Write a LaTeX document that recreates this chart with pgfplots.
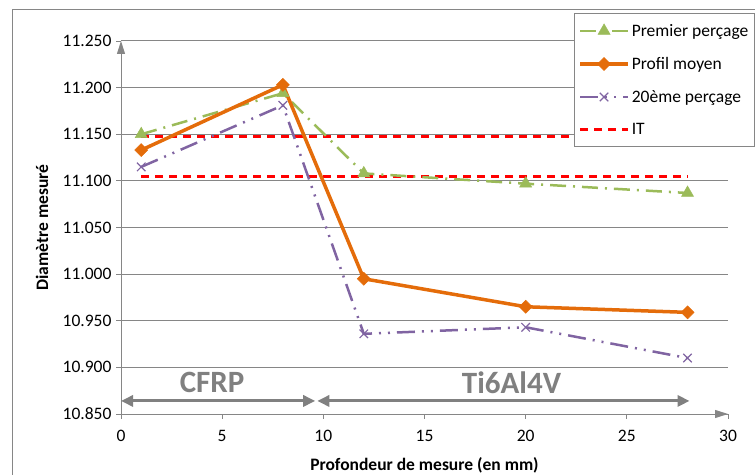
\documentclass[border=0pt]{standalone}
\usepackage{pgfplots}
\pgfplotsset{compat=1.18}
\usepackage{fontspec}
\setmainfont{Carlito}
\usetikzlibrary{arrows.meta}
\definecolor{cgreen}{RGB}{155,187,89}
\definecolor{corange}{RGB}{228,108,10}
\definecolor{cpurple}{RGB}{128,100,162}
\definecolor{cgrid}{RGB}{134,134,134}
\definecolor{carrow}{RGB}{128,128,128}
\begin{document}
\begin{tikzpicture}
\useasboundingbox (0bp,0bp) rectangle (755bp,475bp);
\draw[cgrid, line width=1bp] (12.5bp,-10bp) rectangle (770bp,465bp);
\begin{axis}[
  at={(121bp,61bp)}, anchor=south west,
  scale only axis, width=607bp, height=373bp,
  xmin=0, xmax=30, ymin=10.85, ymax=11.25,
  xtick={0,5,...,30},
  ytick={10.85,10.9,...,11.26},
  axis lines=left,
  axis line style={draw=cgrid, line width=1bp, -{Triangle[length=13bp,width=8bp]}},
  tick style={draw=cgrid, line width=0.8bp},
  major tick length=5bp,
  tick align=outside,
  ymajorgrids,
  grid style={draw=cgrid, line width=1bp},
  /pgf/number format/assume math mode=true,
  yticklabel style={/pgf/number format/fixed, /pgf/number format/fixed zerofill, /pgf/number format/precision=3, /pgf/number format/1000 sep={}, xshift=-1bp},
  ticklabel style={font=\fontsize{17.5bp}{19bp}\selectfont},
  xticklabel style={yshift=-8bp},
  xlabel={Profondeur de mesure (en mm)},
  ylabel={Diamètre mesuré},
  label style={font=\bfseries\fontsize{17.5bp}{19bp}\selectfont},
  xlabel style={at={(axis description cs:0.5,-0.137)}, anchor=center},
  ylabel style={at={(axis description cs:-0.130,0.5)}, anchor=center},
  legend style={at={(rel axis cs:0.746,1.076)}, anchor=north west,
    draw=cgrid, line width=1bp, inner xsep=4bp, inner ysep=9bp,
    font=\fontsize{17.5bp}{19bp}\selectfont, row sep=15.5bp, cells={anchor=west}},
  legend cell align=left,
  legend image code/.code={\draw[mark repeat=2,mark phase=2] plot coordinates {(0bp,0bp) (24bp,0bp) (48bp,0bp)};},
]
\addplot[red, line width=3bp, dash pattern=on 8bp off 6bp, forget plot] coordinates {(1,11.148) (28,11.148)};
\addplot[red, line width=3bp, dash pattern=on 8bp off 6bp, forget plot] coordinates {(1,11.105) (28,11.105)};
\addplot[cgreen, line width=2.5bp, dash pattern=on 16bp off 7bp on 2bp off 7bp, mark=triangle*, mark size=7bp, mark options={solid, fill=cgreen, line width=0.5bp}]
  coordinates {(1,11.150) (8,11.194) (12,11.108) (20,11.097) (28,11.087)};
\addlegendentry{Premier perçage}
\addplot[corange, line width=3.5bp, mark=square*, mark size=4.6bp, mark options={solid, rotate=45, fill=corange, line width=0.5bp}]
  coordinates {(1,11.133) (8,11.203) (12,10.995) (20,10.965) (28,10.959)};
\addlegendentry{Profil moyen}
\addplot[cpurple, line width=2.5bp, dash pattern=on 18bp off 7bp on 2bp off 7bp on 2bp off 7bp, mark=x, mark size=6bp, mark options={solid, line width=1.2bp}]
  coordinates {(1,11.115) (8,11.181) (12,10.936) (20,10.943) (28,10.910)};
\addlegendentry{20ème perçage}
\addlegendimage{red, line width=3bp, dash pattern=on 8bp off 6bp}
\addlegendentry{IT}
\draw[carrow, line width=3bp, {Triangle[length=12bp,width=11bp]}-{Triangle[length=12bp,width=11bp]}] (axis cs:0,10.864) -- (axis cs:9.6,10.864);
\draw[carrow, line width=3bp, {Triangle[length=12bp,width=11bp]}-{Triangle[length=12bp,width=11bp]}] (axis cs:9.7,10.864) -- (axis cs:28.1,10.864);
\node[text=carrow, font=\bfseries\fontsize{31bp}{32bp}\selectfont] at (axis cs:4.5,10.884) {CFRP};
\node[text=carrow, font=\bfseries\fontsize{31bp}{32bp}\selectfont] at (axis cs:19.3,10.884) {Ti6Al4V};
\end{axis}
\end{tikzpicture}
\end{document}
